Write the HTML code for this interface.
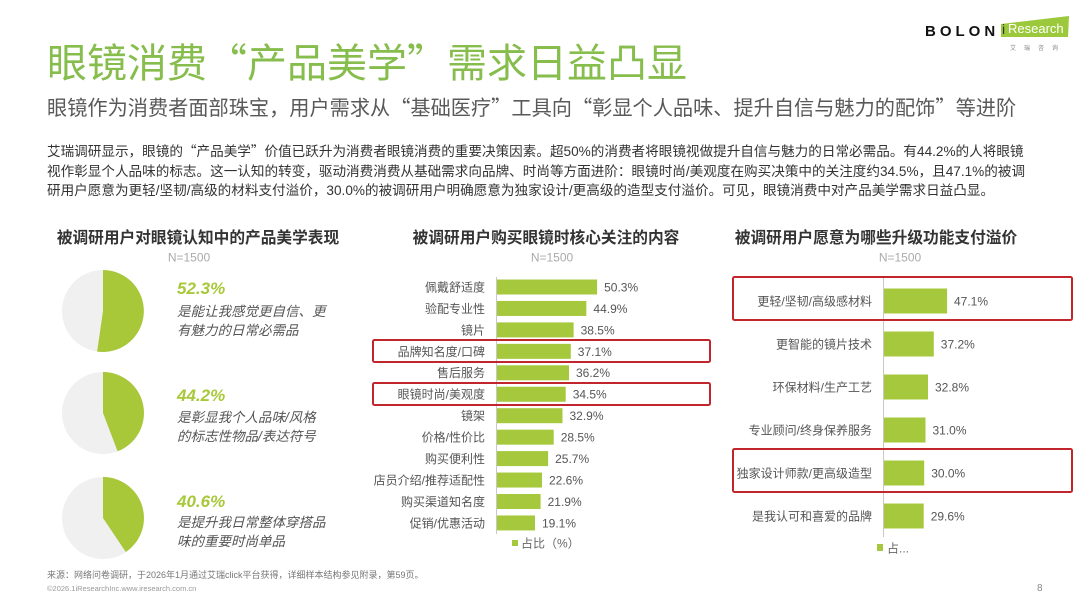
<!DOCTYPE html>
<html><head><meta charset="utf-8">
<style>
*{margin:0;padding:0;box-sizing:border-box}
html,body{width:1080px;height:608px;background:#fff;overflow:hidden}
body{position:relative;font-family:"Liberation Sans","Noto Sans CJK SC",sans-serif}
.a{position:absolute;white-space:nowrap}
.q{font-family:"Noto Sans CJK SC","Liberation Sans",sans-serif;line-height:0}
svg{position:absolute;left:0;top:0}
</style></head><body>

<div class="a" style="left:47px;top:44px;font-size:40px;line-height:40px;color:#86bd4c">眼镜消费<span class="q">“</span>产品美学<span class="q">”</span>需求日益凸显</div>
<div class="a" style="left:47px;top:97px;font-size:20.2px;line-height:24px;color:#595959">眼镜作为消费者面部珠宝，用户需求从<span class="q">“</span>基础医疗<span class="q">”</span>工具向<span class="q">“</span>彰显个人品味、提升自信与魅力的配饰<span class="q">”</span>等进阶</div>

<div class="a" style="left:47px;top:142px;font-size:13.6px;line-height:19.5px;color:#333">艾瑞调研显示，眼镜的<span class="q">“</span>产品美学<span class="q">”</span>价值已跃升为消费者眼镜消费的重要决策因素。超50%的消费者将眼镜视做提升自信与魅力的日常必需品。有44.2%的人将眼镜</div>
<div class="a" style="left:47px;top:161.5px;font-size:13.6px;line-height:19.5px;color:#333">视作彰显个人品味的标志。这一认知的转变，驱动消费消费从基础需求向品牌、时尚等方面进阶：眼镜时尚/美观度在购买决策中的关注度约34.5%，且47.1%的被调</div>
<div class="a" style="left:47px;top:181px;font-size:13.6px;line-height:19.5px;color:#333">研用户愿意为更轻/坚韧/高级的材料支付溢价，30.0%的被调研用户明确愿意为独家设计/更高级的造型支付溢价。可见，眼镜消费中对产品美学需求日益凸显。</div>

<!-- logo -->
<div class="a" style="left:925px;top:22px;font-size:15px;line-height:20px;font-weight:bold;letter-spacing:4px;color:#111">BOLON</div>

<!-- pie texts -->
<div class="a" style="left:177px;top:279px;font-size:17px;line-height:20px;font-weight:bold;font-style:italic;color:#a8c83a">52.3%</div>
<div class="a" style="left:177px;top:301.5px;font-size:13.5px;line-height:19px;font-style:italic;color:#555">是能让我感觉更自信、更<br>有魅力的日常必需品</div>

<div class="a" style="left:177px;top:386px;font-size:17px;line-height:20px;font-weight:bold;font-style:italic;color:#a8c83a">44.2%</div>
<div class="a" style="left:177px;top:407.5px;font-size:13.5px;line-height:19px;font-style:italic;color:#555">是彰显我个人品味/风格<br>的标志性物品/表达符号</div>

<div class="a" style="left:177px;top:492px;font-size:17px;line-height:20px;font-weight:bold;font-style:italic;color:#a8c83a">40.6%</div>
<div class="a" style="left:177px;top:512.5px;font-size:13.5px;line-height:19px;font-style:italic;color:#555">是提升我日常整体穿搭品<br>味的重要时尚单品</div>

<!-- footer -->
<div class="a" style="left:47px;top:569px;font-size:9px;line-height:12px;color:#777">来源：网络问卷调研，于2026年1月通过艾瑞click平台获得，详细样本结构参见附录，第59页。</div>
<div class="a" style="left:47px;top:584px;font-size:7.5px;line-height:10px;color:#999">©2026.1iResearchInc.www.iresearch.com.cn</div>
<div class="a" style="left:1037px;top:583px;font-size:10px;line-height:12px;color:#888">8</div>

<svg width="1080" height="608" viewBox="0 0 1080 608" font-family="Liberation Sans, Noto Sans CJK SC, sans-serif">
  <!-- iResearch logo -->
  <polygon points="1001,24 1069,16 1068,37 1001,37" fill="#9cc93b"/>
  <text x="1002" y="34" font-size="14" fill="#333">i</text>
  <text x="1008" y="33" font-size="13" fill="#fff">Research</text>
  <text x="1010" y="50" font-size="6" fill="#888" letter-spacing="8">艾瑞咨询</text>

  <!-- Left section -->
  <text x="198" y="243" text-anchor="middle" font-size="15.7" font-weight="bold" fill="#333">被调研用户对眼镜认知中的产品美学表现</text>
  <text x="189" y="261.4" text-anchor="middle" font-size="12" fill="#aaa">N=1500</text>

  <circle cx="103" cy="311" r="41" fill="#f0f0f0"/>
  <path d="M103,311 L103,270 A41,41 0 1,1 97.1,351.6 Z" fill="#a8c83a"/>
  <circle cx="103" cy="413" r="41" fill="#f0f0f0"/>
  <path d="M103,413 L103,372 A41,41 0 0,1 117.6,451.3 Z" fill="#a8c83a"/>
  <circle cx="103" cy="518" r="41" fill="#f0f0f0"/>
  <path d="M103,518 L103,477 A41,41 0 0,1 125.8,552.05 Z" fill="#a8c83a"/>

  <!-- Middle chart -->
  <text x="546" y="243" text-anchor="middle" font-size="15.7" font-weight="bold" fill="#333">被调研用户购买眼镜时核心关注的内容</text>
  <text x="552" y="261.4" text-anchor="middle" font-size="12" fill="#aaa">N=1500</text>
  <line x1="496.5" y1="277" x2="496.5" y2="534" stroke="#c8c8c8" stroke-width="1"/>
  <g fill="#a6c83c">
    <rect x="497" y="279.5" width="100.1" height="15"/>
    <rect x="497" y="300.95" width="89.35" height="15"/>
    <rect x="497" y="322.4" width="76.6" height="15"/>
    <rect x="497" y="343.85" width="73.8" height="15"/>
    <rect x="497" y="365.3" width="72.0" height="15"/>
    <rect x="497" y="386.75" width="68.7" height="15"/>
    <rect x="497" y="408.2" width="65.5" height="15"/>
    <rect x="497" y="429.65" width="56.7" height="15"/>
    <rect x="497" y="451.1" width="51.1" height="15"/>
    <rect x="497" y="472.55" width="45.0" height="15"/>
    <rect x="497" y="494.0" width="43.6" height="15"/>
    <rect x="497" y="515.45" width="38.0" height="15"/>
  </g>
  <g font-size="12" fill="#555" text-anchor="end">
    <text x="485" y="291.4">佩戴舒适度</text>
    <text x="485" y="312.85">验配专业性</text>
    <text x="485" y="334.3">镜片</text>
    <text x="485" y="355.75">品牌知名度/口碑</text>
    <text x="485" y="377.2">售后服务</text>
    <text x="485" y="398.65">眼镜时尚/美观度</text>
    <text x="485" y="420.1">镜架</text>
    <text x="485" y="441.55">价格/性价比</text>
    <text x="485" y="463.0">购买便利性</text>
    <text x="485" y="484.45">店员介绍/推荐适配性</text>
    <text x="485" y="505.9">购买渠道知名度</text>
    <text x="485" y="527.35">促销/优惠活动</text>
  </g>
  <g font-size="12" fill="#555">
    <text x="604.1" y="291.4">50.3%</text>
    <text x="593.4" y="312.85">44.9%</text>
    <text x="580.6" y="334.3">38.5%</text>
    <text x="577.8" y="355.75">37.1%</text>
    <text x="576" y="377.2">36.2%</text>
    <text x="572.7" y="398.65">34.5%</text>
    <text x="569.5" y="420.1">32.9%</text>
    <text x="560.7" y="441.55">28.5%</text>
    <text x="555.1" y="463.0">25.7%</text>
    <text x="549" y="484.45">22.6%</text>
    <text x="547.6" y="505.9">21.9%</text>
    <text x="542" y="527.35">19.1%</text>
  </g>
  <rect x="512" y="540" width="6" height="6" fill="#a6c83c"/>
  <text x="521" y="547.4" font-size="12" fill="#666">占比（%）</text>
  <rect x="373" y="340" width="337" height="22" fill="none" stroke="#c0262c" stroke-width="2" rx="1.5"/>
  <rect x="373" y="383" width="337" height="22" fill="none" stroke="#c0262c" stroke-width="2" rx="1.5"/>

  <!-- Right chart -->
  <text x="876" y="243" text-anchor="middle" font-size="15.7" font-weight="bold" fill="#333">被调研用户愿意为哪些升级功能支付溢价</text>
  <text x="900" y="261.4" text-anchor="middle" font-size="12" fill="#aaa">N=1500</text>
  <line x1="883.5" y1="277" x2="883.5" y2="537" stroke="#c8c8c8" stroke-width="1"/>
  <g fill="#a6c83c">
    <rect x="884" y="288.5" width="63.1" height="25"/>
    <rect x="884" y="331.5" width="49.8" height="25"/>
    <rect x="884" y="374.5" width="44.0" height="25"/>
    <rect x="884" y="417.5" width="41.5" height="25"/>
    <rect x="884" y="460.5" width="40.2" height="25"/>
    <rect x="884" y="503.5" width="39.7" height="25"/>
  </g>
  <g font-size="12" fill="#555" text-anchor="end">
    <text x="872" y="305.4">更轻/坚韧/高级感材料</text>
    <text x="872" y="348.4">更智能的镜片技术</text>
    <text x="872" y="391.4">环保材料/生产工艺</text>
    <text x="872" y="434.4">专业顾问/终身保养服务</text>
    <text x="872" y="477.4">独家设计师款/更高级造型</text>
    <text x="872" y="520.4">是我认可和喜爱的品牌</text>
  </g>
  <g font-size="12" fill="#555">
    <text x="954" y="305.4">47.1%</text>
    <text x="940.8" y="348.4">37.2%</text>
    <text x="935" y="391.4">32.8%</text>
    <text x="932.5" y="434.4">31.0%</text>
    <text x="931.2" y="477.4">30.0%</text>
    <text x="930.7" y="520.4">29.6%</text>
  </g>
  <rect x="877" y="544" width="6" height="7" fill="#a6c83c"/>
  <text x="887" y="552.4" font-size="12" fill="#666">占...</text>
  <rect x="733" y="277" width="339" height="43" fill="none" stroke="#c0262c" stroke-width="2" rx="1.5"/>
  <rect x="733" y="449" width="339" height="43" fill="none" stroke="#c0262c" stroke-width="2" rx="1.5"/>
</svg>
</body></html>
